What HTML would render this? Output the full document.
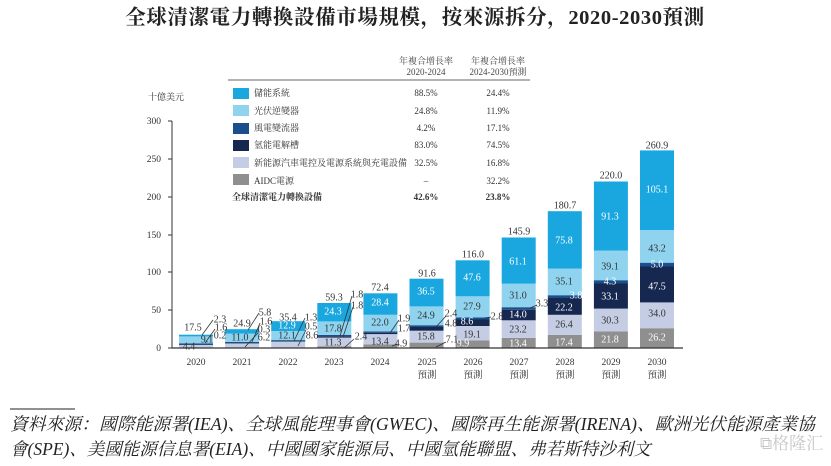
<!DOCTYPE html>
<html><head><meta charset="utf-8"><style>
body{margin:0;background:#fff;width:831px;height:461px;overflow:hidden}
svg text{font-family:"Liberation Serif","Noto Serif CJK SC","Noto Sans CJK TC",serif;}
</style></head><body>
<svg width="831" height="461" xmlns="http://www.w3.org/2000/svg">
<text x="415" y="24" text-anchor="middle" font-size="20.5" font-weight="bold" fill="#222" letter-spacing="0.6">全球清潔電力轉換設備市場規模，按來源拆分，2020-2030預測</text>

<g font-size="9" fill="#444" text-anchor="middle">
<text x="426" y="64">年複合增長率</text><text x="426" y="75">2020-2024</text>
<text x="498" y="64">年複合增長率</text><text x="498" y="75">2024-2030預測</text>
</g>
<line x1="228" y1="80" x2="530" y2="80" stroke="#666" stroke-width="1"/>
<g font-size="9" fill="#333">
<rect x="233" y="88" width="16" height="11" fill="#1aa7e0"/><text x="254" y="96">儲能系統</text>
<rect x="233" y="105" width="16" height="11" fill="#8fd3ee"/><text x="254" y="114">光伏逆變器</text>
<rect x="233" y="123" width="16" height="11" fill="#1a4e8c"/><text x="254" y="131">風電變流器</text>
<rect x="233" y="140" width="16" height="11" fill="#16284f"/><text x="254" y="148">氫能電解槽</text>
<rect x="233" y="157" width="16" height="11" fill="#c5cde4"/><text x="254" y="166">新能源汽車電控及電源系統與充電設備</text>
<rect x="233" y="174" width="16" height="11" fill="#8f8f8f"/><text x="254" y="184">AIDC電源</text>
<text x="232" y="200" font-weight="bold">全球清潔電力轉換設備</text>
</g>
<g font-size="9" fill="#333" text-anchor="middle">
<text x="426" y="96">88.5%</text><text x="498" y="96">24.4%</text>
<text x="426" y="114">24.8%</text><text x="498" y="114">11.9%</text>
<text x="426" y="131">4.2%</text><text x="498" y="131">17.1%</text>
<text x="426" y="148">83.0%</text><text x="498" y="148">74.5%</text>
<text x="426" y="166">32.5%</text><text x="498" y="166">16.8%</text>
<text x="426" y="184">–</text><text x="498" y="184">32.2%</text>
<text x="426" y="200" font-weight="bold">42.6%</text><text x="498" y="200" font-weight="bold">23.8%</text>
</g>

<text x="148" y="100" font-size="9" fill="#333">十億美元</text>
<g font-size="9.5" fill="#333" text-anchor="end">
<text x="161" y="351">0</text><text x="161" y="313">50</text><text x="161" y="275">100</text>
<text x="161" y="238">150</text><text x="161" y="200">200</text><text x="161" y="162">250</text><text x="161" y="124">300</text>
</g>
<g stroke="#333" stroke-width="1">
<line x1="172" y1="121" x2="172" y2="348"/>
<line x1="168" y1="348" x2="172" y2="348"/><line x1="168" y1="310" x2="172" y2="310"/>
<line x1="168" y1="272" x2="172" y2="272"/><line x1="168" y1="235" x2="172" y2="235"/>
<line x1="168" y1="197" x2="172" y2="197"/><line x1="168" y1="159" x2="172" y2="159"/>
<line x1="168" y1="121" x2="172" y2="121"/>
</g>

<g>
<rect x="179" y="344.7" width="34" height="3.3" fill="#c5cde4"/><rect x="179" y="344.5" width="34" height="0.4" fill="#16284f"/><rect x="179" y="343.3" width="34" height="1.2" fill="#1a4e8c"/><rect x="179" y="336.4" width="34" height="6.9" fill="#8fd3ee"/><rect x="179" y="334.7" width="34" height="1.7" fill="#1aa7e0"/>
<rect x="225.1" y="343.3" width="34" height="4.7" fill="#c5cde4"/><rect x="225.1" y="343.1" width="34" height="0.4" fill="#16284f"/><rect x="225.1" y="341.9" width="34" height="1.2" fill="#1a4e8c"/><rect x="225.1" y="333.5" width="34" height="8.4" fill="#8fd3ee"/><rect x="225.1" y="329.2" width="34" height="4.3" fill="#1aa7e0"/>
<rect x="271.2" y="341.5" width="34" height="6.5" fill="#c5cde4"/><rect x="271.2" y="341.1" width="34" height="0.5" fill="#16284f"/><rect x="271.2" y="340.1" width="34" height="1" fill="#1a4e8c"/><rect x="271.2" y="331" width="34" height="9.1" fill="#8fd3ee"/><rect x="271.2" y="321.2" width="34" height="9.8" fill="#1aa7e0"/>
<rect x="317.3" y="346.2" width="34" height="1.8" fill="#8f8f8f"/><rect x="317.3" y="337.6" width="34" height="8.6" fill="#c5cde4"/><rect x="317.3" y="336.3" width="34" height="1.3" fill="#16284f"/><rect x="317.3" y="334.9" width="34" height="1.4" fill="#1a4e8c"/><rect x="317.3" y="321.4" width="34" height="13.5" fill="#8fd3ee"/><rect x="317.3" y="303" width="34" height="18.4" fill="#1aa7e0"/>
<rect x="363.4" y="344.3" width="34" height="3.7" fill="#8f8f8f"/><rect x="363.4" y="334.1" width="34" height="10.2" fill="#c5cde4"/><rect x="363.4" y="332.9" width="34" height="1.2" fill="#16284f"/><rect x="363.4" y="331.4" width="34" height="1.5" fill="#1a4e8c"/><rect x="363.4" y="314.8" width="34" height="16.6" fill="#8fd3ee"/><rect x="363.4" y="293.3" width="34" height="21.5" fill="#1aa7e0"/>
<rect x="409.5" y="342.6" width="34" height="5.4" fill="#8f8f8f"/><rect x="409.5" y="330.7" width="34" height="11.9" fill="#c5cde4"/><rect x="409.5" y="327" width="34" height="3.7" fill="#16284f"/><rect x="409.5" y="325.2" width="34" height="1.8" fill="#1a4e8c"/><rect x="409.5" y="306.4" width="34" height="18.8" fill="#8fd3ee"/><rect x="409.5" y="278.7" width="34" height="27.7" fill="#1aa7e0"/>
<rect x="455.6" y="340.5" width="34" height="7.5" fill="#8f8f8f"/><rect x="455.6" y="326" width="34" height="14.5" fill="#c5cde4"/><rect x="455.6" y="319.5" width="34" height="6.5" fill="#16284f"/><rect x="455.6" y="317.4" width="34" height="2.1" fill="#1a4e8c"/><rect x="455.6" y="296.3" width="34" height="21.1" fill="#8fd3ee"/><rect x="455.6" y="260.3" width="34" height="36" fill="#1aa7e0"/>
<rect x="501.7" y="337.9" width="34" height="10.1" fill="#8f8f8f"/><rect x="501.7" y="320.3" width="34" height="17.6" fill="#c5cde4"/><rect x="501.7" y="309.7" width="34" height="10.6" fill="#16284f"/><rect x="501.7" y="307.2" width="34" height="2.5" fill="#1a4e8c"/><rect x="501.7" y="283.7" width="34" height="23.5" fill="#8fd3ee"/><rect x="501.7" y="237.5" width="34" height="46.2" fill="#1aa7e0"/>
<rect x="547.8" y="334.8" width="34" height="13.2" fill="#8f8f8f"/><rect x="547.8" y="314.8" width="34" height="20" fill="#c5cde4"/><rect x="547.8" y="298" width="34" height="16.8" fill="#16284f"/><rect x="547.8" y="295.2" width="34" height="2.8" fill="#1a4e8c"/><rect x="547.8" y="268.6" width="34" height="26.6" fill="#8fd3ee"/><rect x="547.8" y="211.2" width="34" height="57.4" fill="#1aa7e0"/>
<rect x="593.9" y="331.5" width="34" height="16.5" fill="#8f8f8f"/><rect x="593.9" y="308.6" width="34" height="22.9" fill="#c5cde4"/><rect x="593.9" y="283.5" width="34" height="25.1" fill="#16284f"/><rect x="593.9" y="280.2" width="34" height="3.3" fill="#1a4e8c"/><rect x="593.9" y="250.6" width="34" height="29.6" fill="#8fd3ee"/><rect x="593.9" y="181.5" width="34" height="69.1" fill="#1aa7e0"/>
<rect x="640" y="328.2" width="34" height="19.8" fill="#8f8f8f"/><rect x="640" y="302.4" width="34" height="25.8" fill="#c5cde4"/><rect x="640" y="266.5" width="34" height="35.9" fill="#16284f"/><rect x="640" y="262.7" width="34" height="3.8" fill="#1a4e8c"/><rect x="640" y="230" width="34" height="32.7" fill="#8fd3ee"/><rect x="640" y="150.4" width="34" height="79.6" fill="#1aa7e0"/>
</g>
<line x1="172" y1="348" x2="683" y2="348" stroke="#333" stroke-width="1.2"/>

<g stroke="#333" stroke-width="0.8" fill="none">
<line x1="202" y1="335" x2="213" y2="320"/><line x1="205" y1="343" x2="215" y2="329"/>
<line x1="248" y1="330" x2="259" y2="313"/><line x1="252" y1="342" x2="260" y2="323"/><line x1="245" y1="347" x2="258" y2="333"/>
<line x1="294" y1="341" x2="305" y2="318"/><line x1="298" y1="346" x2="306" y2="330"/>
<line x1="340" y1="336" x2="352" y2="296"/><line x1="343" y1="337" x2="353" y2="307"/><line x1="344" y1="348" x2="354" y2="339"/>
<line x1="390" y1="333" x2="399" y2="320"/><line x1="392" y1="346" x2="397" y2="344"/>
<line x1="436" y1="327" x2="446" y2="316"/><line x1="436" y1="347" x2="446" y2="342"/>
<line x1="484" y1="318" x2="491" y2="317"/><line x1="530" y1="308" x2="537" y2="305"/>
</g>

<g font-size="10" text-anchor="middle" dominant-baseline="central" fill="#333">
<text x="193" y="328">17.5</text><text x="220" y="320">2.3</text><text x="221" y="328">1.6</text><text x="220" y="336">0.2</text><text x="207" y="340">9.1</text><text x="189" y="347">4.4</text>
<text x="242" y="324">24.9</text><text x="265" y="313">5.8</text><text x="266" y="322">1.6</text><text x="264" y="330">0.3</text><text x="264" y="338">6.2</text><text x="240" y="338">11.0</text>
<text x="288" y="318">35.4</text><text x="287" y="336">12.1</text><text x="311" y="318">1.3</text><text x="311" y="327">0.5</text><text x="312" y="336">8.6</text>
<text x="334" y="298">59.3</text><text x="333" y="329">17.8</text><text x="333" y="343">11.3</text><text x="357" y="295">1.8</text><text x="357" y="306">1.8</text><text x="361" y="337">2.4</text>
<text x="380" y="288">72.4</text><text x="380" y="323">22.0</text><text x="380" y="342">13.4</text><text x="404" y="319">1.9</text><text x="404" y="329">1.7</text><text x="401" y="344">4.9</text>
<text x="427" y="274">91.6</text><text x="426" y="316">24.9</text><text x="426" y="337">15.8</text><text x="451" y="314">2.4</text><text x="451" y="324">4.8</text><text x="452" y="340">7.1</text>
<text x="473" y="255">116.0</text><text x="472" y="307">27.9</text><text x="472" y="335">19.1</text><text x="497" y="317">2.8</text>
<text x="519" y="232">145.9</text><text x="518" y="296">31.0</text><text x="518" y="330">23.2</text><text x="542" y="304">3.3</text>
<text x="565" y="206">180.7</text><text x="564" y="282">35.1</text><text x="564" y="325">26.4</text>
<text x="611" y="176">220.0</text><text x="610" y="267">39.1</text><text x="610" y="321">30.3</text>
<text x="657" y="146">260.9</text><text x="657" y="249">43.2</text><text x="657" y="314">34.0</text>
</g>
<g font-size="10" text-anchor="middle" dominant-baseline="central" fill="#fff">
<text x="287" y="326">12.9</text><text x="333" y="312">24.3</text><text x="380" y="303">28.4</text><text x="426" y="292">36.5</text>
<text x="472" y="278">47.6</text><text x="467" y="322">8.6</text><text x="463" y="344">9.9</text>
<text x="518" y="262">61.1</text><text x="518" y="315">14.0</text><text x="518" y="344">13.4</text>
<text x="564" y="241">75.8</text><text x="576" y="296">3.8</text><text x="564" y="308">22.2</text><text x="564" y="343">17.4</text>
<text x="610" y="217">91.3</text><text x="610" y="282">4.3</text><text x="610" y="297">33.1</text><text x="610" y="340">21.8</text>
<text x="657" y="190">105.1</text><text x="657" y="265">5.0</text><text x="657" y="287">47.5</text><text x="657" y="338">26.2</text>
</g>

<g font-size="9.5" text-anchor="middle" fill="#333">
<text x="196" y="365">2020</text><text x="242" y="365">2021</text><text x="288" y="365">2022</text><text x="334" y="365">2023</text><text x="380" y="365">2024</text>
<text x="427" y="365">2025</text><text x="473" y="365">2026</text><text x="519" y="365">2027</text><text x="565" y="365">2028</text><text x="611" y="365">2029</text><text x="657" y="365">2030</text>
<text x="427" y="378">預測</text><text x="473" y="378">預測</text><text x="519" y="378">預測</text><text x="565" y="378">預測</text><text x="611" y="378">預測</text><text x="657" y="378">預測</text>
</g>

<line x1="10" y1="409" x2="75" y2="409" stroke="#222" stroke-width="1"/>
<g font-size="17.5" fill="#222" font-style="italic">
<text x="10" y="430" textLength="805" lengthAdjust="spacingAndGlyphs">資料來源：國際能源署(IEA)、全球風能理事會(GWEC)、國際再生能源署(IRENA)、歐洲光伏能源產業協</text>
<text x="10" y="455">會(SPE)、美國能源信息署(EIA)、中國國家能源局、中國氫能聯盟、弗若斯特沙利文</text>
</g>
<text x="760" y="449" font-size="17" fill="#c8c8c8">⧉格隆汇</text>
</svg>
</body></html>
